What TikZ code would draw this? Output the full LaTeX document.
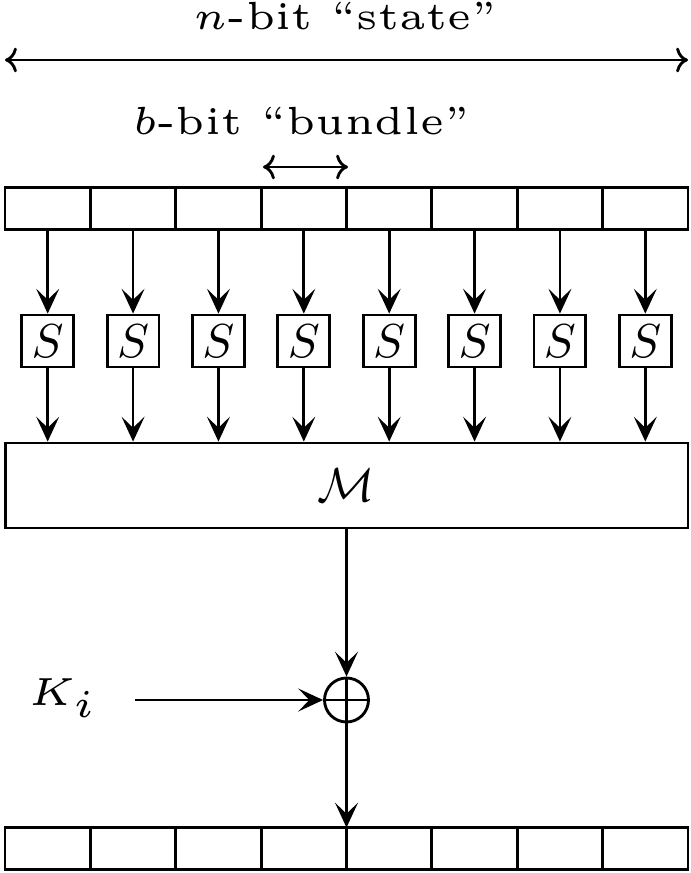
\documentclass[tikz,border=0pt]{standalone}
\usepackage{tikz}
\usepackage{graphicx}
\usetikzlibrary{arrows,arrows.meta,shapes,positioning}

% captions are set in the 5pt design size, blown up
\newcommand{\bigtiny}[1]{\scalebox{1.65}{\fontsize{5}{6}\selectfont #1}}

\tikzset{
  cell/.style={draw,rectangle,minimum width=17.93pt,minimum height=8.8pt,inner sep=0pt,outer sep=0pt},
  sbox/.style={draw,rectangle,minimum size=10.9pt,inner sep=0pt,font=\fontsize{9.6}{11}\selectfont},
  flow/.style={-{Stealth[length=5.2pt,width=4.8pt,inset=2.3pt]},semithick},
  span/.style={{Computer Modern Rightarrow[length=2.5pt,width=5.2pt]}-{Computer Modern Rightarrow[length=2.5pt,width=5.2pt]},semithick}
}

\begin{document}
\begin{tikzpicture}[x=0.21pt,y=-0.21pt,semithick]
  \useasboundingbox (0,0) rectangle (691,873);

  % width of the whole state, with its caption on top
  \node[anchor=base,inner sep=0pt] (statetxt) at (345,30) {\bigtiny{$n$-bit ``state''}};
  \coordinate (sl) at (5,60);
  \coordinate (sr) at (688,60);
  \draw[span] (sl) -- (sr);

  % width of one bundle
  \node[anchor=base,inner sep=0pt] (bundletxt) at (301,135) {\bigtiny{$b$-bit ``bundle''}};
  \coordinate (bl) at (263,167);
  \coordinate (br) at (348,167);
  \draw[span] (bl) -- (br);

  % input bundles, S-boxes below them, arrows in between
  \foreach \i in {1,...,8} {
    \node[cell] (in\i) at ({5+(\i-0.5)*85.375},208.5) {};
    \node[sbox] (s\i) at ({5+(\i-0.5)*85.375},341) {$S$};
    \draw[flow] (in\i) -- (s\i);
  }

  % linear mixing layer
  \node[draw,rectangle,minimum width=143.4pt,minimum height=17.85pt,inner sep=0pt,font=\fontsize{9.6}{11}\selectfont] (mix) at (346.5,485.5) {$\mathcal{M}$};
  \foreach \i in {1,...,8}
    \draw[flow] (s\i) -- (s\i |- mix.north);

  % key addition
  \node[draw,circle,minimum size=9.24pt,inner sep=0pt] (xor) at (346.5,700) {};
  \draw (xor.north) -- (xor.south) (xor.west) -- (xor.east);
  \node[anchor=base west,inner sep=0pt] (key) at (27,705) {\bigtiny{$K_i$}};
  \coordinate (kin) at (135,700);
  \draw[flow] (kin) -- (xor);
  \draw[flow] (mix) -- (xor);

  % output bundles
  \foreach \i in {1,...,8}
    \node[cell] (out\i) at ({5+(\i-0.5)*85.375},848.5) {};
  \draw[flow] (xor) -- (xor |- out4.north);
\end{tikzpicture}
\end{document}
